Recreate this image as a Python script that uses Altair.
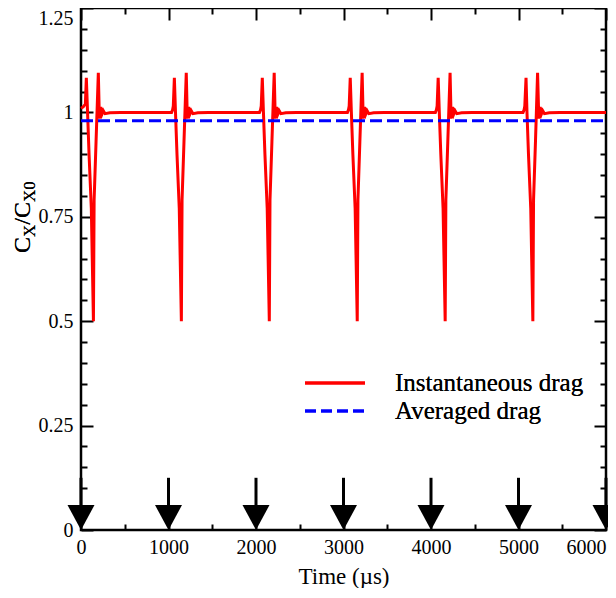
import altair as alt
import pandas as pd

FONT = "Liberation Serif"

# ---- data ----
# instantaneous drag, C_X / C_X0 against time (µs)
inst_time = [
    0, 25, 50, 61, 75, 92, 118, 142, 150, 172, 198, 210, 226, 240, 255, 275, 330, 450,
    1035, 1047, 1055, 1067, 1080, 1097, 1123, 1147, 1155, 1177, 1203, 1215, 1231, 1245, 1260, 1280, 1335, 1455,
    2040, 2052, 2060, 2072, 2085, 2102, 2128, 2152, 2160, 2182, 2208, 2220, 2236, 2250, 2265, 2285, 2340, 2460,
    3045, 3057, 3065, 3077, 3090, 3107, 3133, 3157, 3165, 3187, 3213, 3225, 3241, 3255, 3270, 3290, 3345, 3465,
    4050, 4062, 4070, 4082, 4095, 4112, 4138, 4162, 4170, 4192, 4218, 4230, 4246, 4260, 4275, 4295, 4350, 4470,
    5052, 5064, 5072, 5086, 5097, 5114, 5140, 5164, 5172, 5194, 5218, 5232, 5248, 5262, 5277, 5297, 5352, 5472,
    6000,
]
inst_value = [
    1.01, 1.013, 1.02, 1.083, 1.0, 0.9, 0.77, 0.5, 0.79, 0.93, 1.095, 0.985, 1.013, 0.996, 1.004, 0.997, 0.999, 1.0,
    1.0, 1.006, 1.015, 1.083, 1.0, 0.9, 0.77, 0.5, 0.79, 0.93, 1.095, 0.985, 1.013, 0.996, 1.004, 0.997, 0.999, 1.0,
    1.0, 1.006, 1.015, 1.083, 1.0, 0.9, 0.77, 0.5, 0.79, 0.93, 1.095, 0.985, 1.013, 0.996, 1.004, 0.997, 0.999, 1.0,
    1.0, 1.006, 1.015, 1.083, 1.0, 0.9, 0.77, 0.5, 0.79, 0.93, 1.095, 0.985, 1.013, 0.996, 1.004, 0.997, 0.999, 1.0,
    1.0, 1.006, 1.015, 1.083, 1.0, 0.9, 0.77, 0.5, 0.79, 0.93, 1.095, 0.985, 1.013, 0.996, 1.004, 0.997, 0.999, 1.0,
    1.0, 1.006, 1.015, 1.083, 1.0, 0.9, 0.77, 0.5, 0.79, 0.93, 1.095, 0.985, 1.013, 0.996, 1.004, 0.997, 0.999, 1.0,
    1.0,
]
# averaged drag
avg_time = [0, 6000]
avg_value = [0.98, 0.98]
# arrows marking the pulse instants
arrow_time = [0, 1000, 2000, 3000, 4000, 5000, 6000]
arrow_top = [0.125] * 7
arrow_end = [0.03] * 7
arrow_tip = [0.0] * 7

# axis ticks
x_major = [0, 1000, 2000, 3000, 4000, 5000, 6000]
x_minor = [500, 1500, 2500, 3500, 4500, 5500]
y_major = [0, 0.25, 0.5, 0.75, 1.0, 1.25]
y_minor = [0.05, 0.1, 0.15, 0.2, 0.3, 0.35, 0.4, 0.45, 0.55, 0.6, 0.65, 0.7,
           0.8, 0.85, 0.9, 0.95, 1.05, 1.1, 1.15, 1.2]

legend_labels = ["Instantaneous drag", "Averaged drag"]

W, H = 525, 522

xs = alt.Scale(domain=[0, 6000], nice=False, zero=False)
ys = alt.Scale(domain=[0, 1.25], nice=False, zero=False)

common = dict(domain=False, grid=False, tickColor="black", tickWidth=2,
              labelFont=FONT, labelFontSize=20, labelColor="black",
              titleFont=FONT, titleFontSize=23, titleColor="black", titleFontWeight="normal")


def ax(values, orient, size, labels=False, **kw):
    return alt.Axis(values=values, orient=orient, tickSize=size, offset=-size,
                    labels=labels, **common, **kw)


df_inst = pd.DataFrame({"t": inst_time, "v": inst_value})
df_avg = pd.DataFrame({"t": avg_time, "v": avg_value})
df_arrow = pd.DataFrame({"t": arrow_time, "top": arrow_top, "end": arrow_end, "tip": arrow_tip})

inst = alt.Chart(df_inst).mark_line(color="#ff0000", strokeWidth=3).encode(
    x=alt.X("t:Q", scale=xs, axis=ax(x_major, "bottom", 12, labels=True, format="d",
                                     labelPadding=7, labelFlush=False,
                                     labelAlign=alt.condition("datum.value >= 6000",
                                                              alt.value("right"),
                                                              alt.value("center")),
                                     title="Time (µs)", titlePadding=8)),
    y=alt.Y("v:Q", scale=ys, axis=ax(y_major, "left", 12, labels=True, format=".3~g",
                                     labelPadding=8, title=None,
                                     labelBaseline=alt.condition("datum.value >= 1.25",
                                                                 alt.value("top"),
                                                                 alt.value("middle")))),
)

avg = alt.Chart(df_avg).mark_line(color="#0000ff", strokeWidth=3, strokeDash=[12, 5]).encode(
    x=alt.X("t:Q", scale=xs, axis=ax(x_minor, "bottom", 6, title=None)),
    y=alt.Y("v:Q", scale=ys, axis=ax(y_minor, "left", 6, title=None)),
)

shafts = alt.Chart(df_arrow).mark_rule(color="black", strokeWidth=3).encode(
    x=alt.X("t:Q", scale=xs, axis=ax(x_major, "top", 12, title=None)),
    y=alt.Y("top:Q", scale=ys, axis=ax(y_major, "right", 12, title=None)),
    y2="end:Q",
)

heads = alt.Chart(df_arrow).mark_point(
    shape="M-1,-1.85L1,-1.85L0,0Z", size=729, filled=True, color="black", opacity=1
).encode(
    x=alt.X("t:Q", scale=xs, axis=ax(x_minor, "top", 6, title=None)),
    y=alt.Y("tip:Q", scale=ys, axis=ax(y_minor, "right", 6, title=None)),
)

# y title C_X / C_X0 with subscripts
def ytxt(txt, size, x, y):
    return alt.Chart(df_avg).mark_text(
        text=txt, font=FONT, fontSize=size, angle=270, align="left",
        baseline="alphabetic", color="black"
    ).encode(x=alt.value(x), y=alt.value(y))

ytitle = [
    ytxt("C", 24, -51, 245),
    ytxt("X", 17, -46, 229),
    ytxt("/", 24, -51, 216.7),
    ytxt("C", 24, -51, 210),
    ytxt("X0", 17, -46, 194),
]

# legend
leg_red = alt.Chart(df_avg).mark_rule(color="#ff0000", strokeWidth=3).encode(
    x=alt.value(224), x2=alt.value(284), y=alt.value(375))
leg_blue = alt.Chart(df_avg).mark_rule(color="#0000ff", strokeWidth=3, strokeDash=[11, 5]).encode(
    x=alt.value(224), x2=alt.value(284), y=alt.value(403))
leg_t1 = alt.Chart(df_avg).mark_text(text=legend_labels[0], font=FONT, fontSize=25, align="left",
                                     baseline="middle", color="black").encode(
    x=alt.value(314), y=alt.value(375))
leg_t2 = alt.Chart(df_avg).mark_text(text=legend_labels[1], font=FONT, fontSize=25, align="left",
                                     baseline="middle", color="black").encode(
    x=alt.value(314), y=alt.value(403))

chart = alt.layer(
    inst, avg, shafts, heads, *ytitle, leg_red, leg_blue, leg_t1, leg_t2
).resolve_axis(
    x="independent", y="independent"
).properties(
    width=W, height=H,
    autosize=alt.AutoSizeParams(type="none"),
    padding={"left": 73, "top": 0, "right": 2, "bottom": 58},
).configure_view(
    stroke="black", strokeWidth=2.5
)

chart.save("out.html", embed_options={"renderer": "svg", "actions": False})
